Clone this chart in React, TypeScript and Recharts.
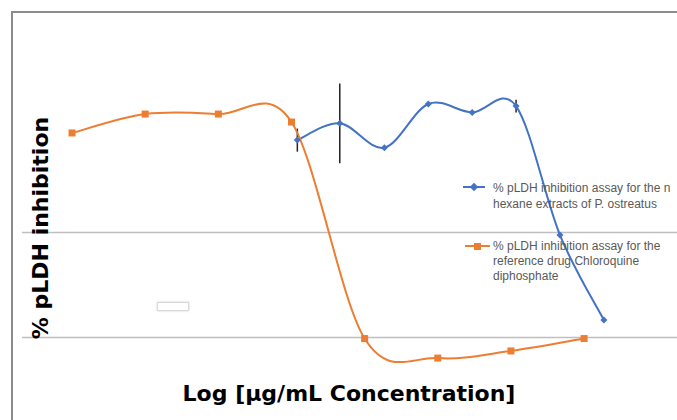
import React from "react";
import { LineChart, Line, XAxis, YAxis, ReferenceLine, ErrorBar } from "recharts";

// x positions are log concentration steps
const drugX = [1, 2, 3, 4, 5, 6, 7, 8];
const drugY = [97.4, 106.4, 106.4, 102.6, -0.5, -9.8, -6.4, -0.5];

const extractX = [4.08, 4.66, 5.27, 5.87, 6.47, 7.07, 7.67, 8.27];
const extractY = [94.0, 102.0, 90.4, 111.2, 107.2, 110.2, 48.8, 8.3];
const extractErr = [5.5, 19, 0, 0, 0, 3, 0, 0];

const gridValues = [0, 50];

const drugData = drugX.map((x, i) => ({ x, y: drugY[i] }));
const extractData = extractX.map((x, i) => ({ x, y: extractY[i], err: extractErr[i] }));

const BLUE = "#4472C4";
const ORANGE = "#ED7D31";

// Excel-like smoothing (Catmull-Rom through the points)
const smoothCurve = (context: any) => {
  let pts: number[][] = [];
  return {
    areaStart() {},
    areaEnd() {},
    lineStart() {
      pts = [];
    },
    point(x: number, y: number) {
      pts.push([+x, +y]);
    },
    lineEnd() {
      if (!pts.length) return;
      context.moveTo(pts[0][0], pts[0][1]);
      for (let i = 0; i < pts.length - 1; i++) {
        const p0 = pts[i - 1] || pts[i];
        const p1 = pts[i];
        const p2 = pts[i + 1];
        const p3 = pts[i + 2] || pts[i + 1];
        context.bezierCurveTo(
          p1[0] + (p2[0] - p0[0]) / 6,
          p1[1] + (p2[1] - p0[1]) / 6,
          p2[0] - (p3[0] - p1[0]) / 6,
          p2[1] - (p3[1] - p1[1]) / 6,
          p2[0],
          p2[1]
        );
      }
    },
  };
};

const Diamond = (props: any) => {
  const { cx, cy } = props;
  if (cx == null || cy == null) return null;
  const s = 3.5;
  return <path d={`M${cx},${cy - s}L${cx + s},${cy}L${cx},${cy + s}L${cx - s},${cy}Z`} fill={BLUE} />;
};

const Square = (props: any) => {
  const { cx, cy } = props;
  if (cx == null || cy == null) return null;
  return <rect x={cx - 3.5} y={cy - 3.5} width={7} height={7} fill={ORANGE} />;
};

const legendText: React.CSSProperties = {
  position: "absolute",
  left: 493,
  fontFamily: "'Liberation Sans', Arial, sans-serif",
  fontSize: 12,
  color: "#595959",
  whiteSpace: "nowrap",
};

export default function App() {
  return (
    <div style={{ position: "relative", width: 677, height: 420, overflow: "hidden", background: "#fff" }}>
      <style>{"body{margin:0}"}</style>
      <div
        style={{
          position: "absolute",
          left: 11,
          top: 11,
          width: 700,
          height: 460,
          borderLeft: "2px solid #8c8c8c",
          borderTop: "2px solid #8c8c8c",
        }}
      />
      <div style={{ position: "absolute", left: 0, top: 0 }}>
        <LineChart width={677} height={460} margin={{ top: 22.5, right: 0, bottom: 17.5, left: 22 }}>
          <XAxis type="number" dataKey="x" hide domain={[0.316, 9.27]} allowDataOverflow />
          <YAxis type="number" hide domain={[-50, 150]} allowDataOverflow />
          {gridValues.map((v) => (
            <ReferenceLine key={v} y={v} stroke="#bfbfbf" strokeWidth={1.5} />
          ))}
          <Line
            data={extractData}
            dataKey="y"
            type={smoothCurve as any}
            stroke={BLUE}
            strokeWidth={2}
            dot={<Diamond />}
            activeDot={false}
            isAnimationActive={false}
          >
            <ErrorBar dataKey="err" direction="y" width={0} stroke="#222" strokeWidth={1.5} />
          </Line>
          <Line
            data={drugData}
            dataKey="y"
            type={smoothCurve as any}
            stroke={ORANGE}
            strokeWidth={2}
            dot={<Square />}
            activeDot={false}
            isAnimationActive={false}
          />
        </LineChart>
      </div>

      {/* legend */}
      <div style={{ position: "absolute", left: 463, top: 186, width: 22, height: 2, background: BLUE }} />
      <div
        style={{
          position: "absolute",
          left: 470.5,
          top: 183.5,
          width: 6,
          height: 6,
          background: BLUE,
          transform: "rotate(45deg)",
        }}
      />
      <div style={{ ...legendText, top: 180, lineHeight: "16px" }}>
        % pLDH inhibition assay for the n
        <br />
        hexane extracts of P. ostreatus
      </div>
      <div style={{ position: "absolute", left: 465, top: 245, width: 25, height: 2, background: ORANGE }} />
      <div style={{ position: "absolute", left: 474, top: 242.5, width: 7, height: 7, background: ORANGE }} />
      <div style={{ ...legendText, top: 239, lineHeight: "15px" }}>
        % pLDH inhibition assay for the
        <br />
        reference drug Chloroquine
        <br />
        diphosphate
      </div>

      <div
        style={{
          position: "absolute",
          left: 157,
          top: 302,
          width: 30,
          height: 7,
          border: "1px solid #d9d9d9",
          boxShadow: "0 0 2px #ccc",
          background: "#fff",
        }}
      />

      {/* axis titles */}
      <div
        style={{
          position: "absolute",
          left: 349,
          top: 393,
          transform: "translate(-50%, -50%)",
          fontFamily: "'DejaVu Sans', sans-serif",
          fontWeight: "bold",
          fontSize: 22,
          color: "#000",
          whiteSpace: "nowrap",
        }}
      >
        Log [µg/mL Concentration]
      </div>
      <div
        style={{
          position: "absolute",
          left: 40,
          top: 228,
          transform: "translate(-50%, -50%) rotate(-90deg)",
          fontFamily: "'DejaVu Sans', sans-serif",
          fontWeight: "bold",
          fontSize: 22,
          color: "#000",
          whiteSpace: "nowrap",
        }}
      >
        % pLDH inhibition
      </div>
    </div>
  );
}
